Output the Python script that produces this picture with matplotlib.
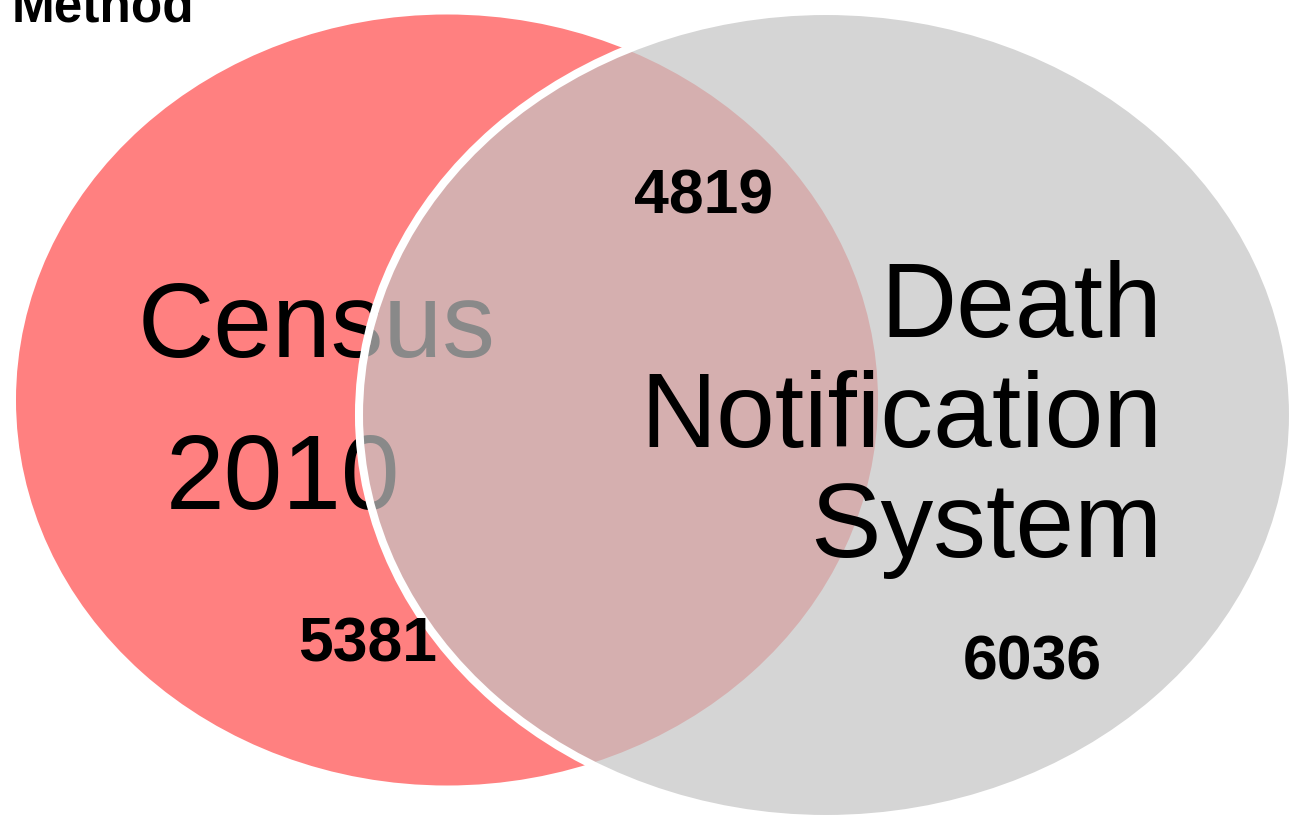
import matplotlib.pyplot as plt
from matplotlib.patches import Ellipse

# ── Data ─────────────────────────────────────────────────────────────────────
title = "Method"
set_labels = ["Census\n2010", "Death\nNotification\nSystem"]
only_census = 5381
both = 4819
only_dns = 6036

W, H = 1293, 819
plt.rcParams["font.family"] = ["Liberation Sans", "DejaVu Sans"]

fig = plt.figure(figsize=(W / 100, H / 100), dpi=100)
fig.patch.set_facecolor("white")
ax = fig.add_axes([0, 0, 1, 1])
ax.set_xlim(0, W)
ax.set_ylim(H, 0)
ax.axis("off")

# ── Census ellipse and its label (under the grey one) ───────────────────────
ax.add_patch(Ellipse((447, 400), 862, 771, facecolor="#ff8080", edgecolor="none", zorder=1))
census_lines = set_labels[0].split("\n")
ax.text(138, 357, census_lines[0], fontsize=76, ha="left", va="baseline", zorder=2)
ax.text(166, 509, census_lines[1], fontsize=76, ha="left", va="baseline", zorder=2)

# ── Death Notification System ellipse ───────────────────────────────────────
ax.add_patch(Ellipse((826, 415), 934, 808, facecolor="#c4c4c4", edgecolor="none",
                     alpha=0.7, zorder=3))
ax.add_patch(Ellipse((826, 415), 934, 808, facecolor="none", edgecolor="white",
                     linewidth=5.8, zorder=3))
for line, y in zip(set_labels[1].split("\n"), [337, 447, 557]):
    ax.text(1162, y, line, fontsize=76, ha="right", va="baseline", zorder=4)

# ── Counts ───────────────────────────────────────────────────────────────────
num = dict(fontsize=45, fontweight="bold", ha="left", va="baseline", zorder=5)
ax.text(634, 213, f"{both}", **num)
ax.text(298, 662, f"{only_census}", **num)
ax.text(963, 679, f"{only_dns}", **num)

ax.text(12, 22, title, fontsize=37, fontweight="bold", ha="left", va="baseline", zorder=5)

fig.savefig("out.png", dpi=100, facecolor="white")
